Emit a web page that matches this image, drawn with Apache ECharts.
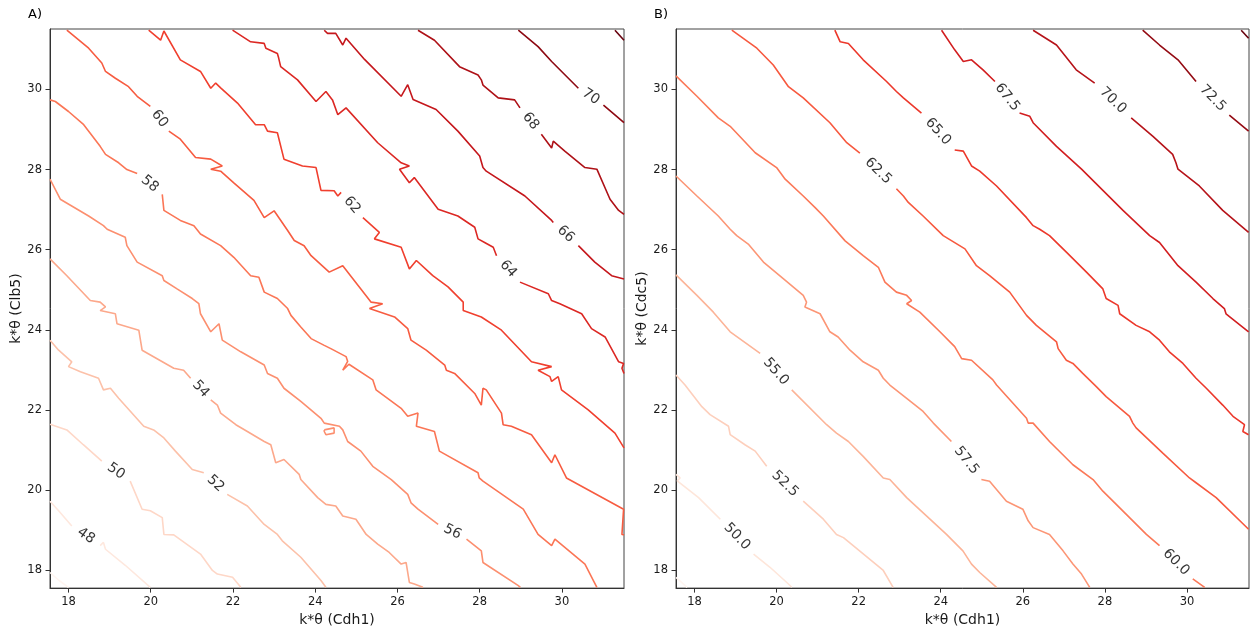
<!DOCTYPE html>
<html><head><meta charset="utf-8">
<script src="https://cdn.jsdelivr.net/npm/echarts@6/dist/echarts.min.js"></script>
<style>html,body{margin:0;padding:0;background:#fff}#c{width:1250px;height:632px}</style>
</head><body><div id="c"></div>
<script>
// ---------- data ----------
const tickValues = [18, 20, 22, 24, 26, 28, 30];
const axisRange = [17.55, 31.51];
const panelTitles = ['A)', 'B)'];
const xNames = ['k*θ (Cdh1)', 'k*θ (Cdh1)'];
const yNames = ['k*θ (Clb5)', 'k*θ (Cdc5)'];

// '|' marks the gap where the contour label sits, null a plain break
const levelsA = [46, 48, 50, 52, 54, 56, 58, 60, 62, 64, 66, 68, 70, 72];
const a46 = [[17.55,17.94],[17.77,17.74],[18.0,17.57]];
const a48 = [[17.55,19.72],[17.76,19.48],[18.08,19.10],'|',[18.77,18.61],[18.85,18.69],[18.90,18.52],[19.38,18.12],[19.99,17.57]];
const a50 = [[17.55,21.64],[17.96,21.50],[18.36,21.13],[18.81,20.72],'|',[19.50,20.22],[19.79,19.52],[19.99,19.48],[20.28,19.31],[20.32,18.89],[20.56,18.88],[21.21,18.40],[21.50,17.99],[21.62,17.90],[21.99,17.82],[22.19,17.57]];
const a52 = [[17.55,23.74],[17.76,23.49],[18.08,23.20],[18.00,23.08],[18.29,22.95],[18.73,22.79],[18.85,22.50],[19.02,22.54],[19.22,22.29],[19.83,21.59],[20.07,21.50],[20.32,21.30],[20.60,20.97],[21.01,20.51],[21.29,20.43],'|',[21.86,19.89],[22.35,19.60],[22.76,19.14],[23.08,18.89],[23.20,18.73],[23.65,18.32],[24.14,17.74],[24.26,17.57]];
const a54 = [[17.55,25.77],[17.96,25.35],[18.53,24.73],[18.77,24.69],[18.90,24.57],[18.77,24.48],[19.14,24.40],[19.18,24.15],[19.71,23.99],[19.79,23.49],[20.56,23.04],[20.80,22.99],[20.97,22.79],'|',[21.46,22.25],[21.62,22.12],[21.70,21.92],[22.07,21.63],[22.35,21.46],[22.76,21.21],[22.92,21.13],[23.04,20.68],[23.24,20.76],[23.61,20.39],[23.65,20.26],[24.06,19.81],[24.26,19.64],[24.50,19.60],[24.67,19.35],[24.99,19.27],[25.24,18.89],[25.52,18.65],[25.80,18.44],[26.09,18.15],[26.21,18.19],[26.29,17.69],[26.41,17.65],[26.62,17.57]];
const a56 = [[17.55,27.76],[17.80,27.26],[18.49,26.84],[18.85,26.60],[18.94,26.51],[19.38,26.31],[19.42,26.10],[19.67,25.69],[20.28,25.35],[20.32,25.23],[20.64,25.02],[21.01,24.78],[21.17,24.65],[21.21,24.40],[21.46,23.95],[21.66,24.15],[21.74,23.74],[22.19,23.45],[22.76,23.12],[22.84,22.91],[23.08,22.79],[23.24,22.54],[23.65,22.21],[24.14,21.79],[24.22,21.67],[24.59,21.59],[24.67,21.50],[24.79,21.21],[25.11,20.97],[25.40,20.59],[25.85,20.26],[26.25,19.89],[26.33,19.68],[26.50,19.52],[26.99,19.14],'|',[27.68,18.77],[28.04,18.48],[28.08,18.19],[28.94,17.61],[28.99,17.57],null,[24.22,21.50],[24.46,21.55],[24.46,21.42],[24.26,21.38],[24.22,21.46],[24.22,21.50]];
const a58 = [[17.55,29.74],[17.68,29.70],[18.00,29.45],[18.37,29.12],[18.77,28.58],[18.90,28.38],[18.94,28.42],[19.22,28.17],[19.42,28.00],[19.67,27.90],'|',[20.28,27.38],[20.32,26.98],[20.72,26.73],[21.05,26.60],[21.21,26.39],[21.70,26.10],[22.02,25.81],[22.43,25.35],[22.63,25.31],[22.76,24.94],[23.08,24.78],[23.33,24.53],[23.41,24.36],[23.65,24.07],[23.90,23.78],[24.22,23.61],[24.38,23.53],[24.75,23.33],[24.79,23.21],[24.67,22.99],[24.82,23.14],[25.40,22.75],[25.48,22.50],[26.09,22.04],[26.25,21.84],[26.50,21.92],[26.46,21.59],[26.90,21.46],[27.02,20.97],[27.96,20.43],[27.99,20.30],[28.08,20.22],[29.06,19.52],[29.42,18.89],[29.75,18.61],[29.83,18.77],[30.56,18.15],[30.85,17.57]];
const a60 = [[17.96,31.48],[18.49,31.03],[18.81,30.66],[18.90,30.45],[19.14,30.28],[19.46,30.07],[19.67,29.83],[19.99,29.58],'|',[20.44,28.96],[20.72,28.76],[21.09,28.30],[21.46,28.26],[21.74,28.09],[21.46,28.01],[21.70,27.96],[22.02,27.67],[22.51,27.23],[22.76,26.80],[23.00,26.97],[23.33,26.48],[23.49,26.23],[23.73,26.10],[23.90,25.85],[24.34,25.44],[24.67,25.60],[25.11,25.02],[25.36,24.69],[25.64,24.65],[25.32,24.53],[25.93,24.32],[26.25,24.03],[26.33,23.74],[26.70,23.49],[27.15,23.12],[27.19,22.99],[27.39,22.91],[27.88,22.41],[28.04,22.12],[28.08,22.54],[28.16,22.50],[28.53,21.92],[28.57,21.63],[28.77,21.59],[29.26,21.38],[29.75,20.68],[29.83,20.88],[30.11,20.30],[31.50,19.52],[31.46,18.89],[31.51,18.88]];
const a62 = [[19.95,31.48],[20.24,31.23],[20.32,31.46],[20.72,30.74],[21.21,30.45],[21.46,30.03],[21.58,30.16],[21.70,30.04],[22.11,29.66],[22.55,29.12],[22.76,29.12],[22.84,28.96],[23.08,28.92],[23.12,28.96],[23.24,28.26],[23.69,28.09],[24.02,28.05],[24.14,27.48],[24.46,27.47],[24.55,27.34],[24.63,27.43],'|',[25.16,26.80],[25.56,26.43],[25.44,26.27],[26.09,26.06],[26.29,25.52],[26.46,25.73],[26.86,25.35],[27.23,25.07],[27.60,24.69],[27.60,24.48],[28.04,24.32],[28.53,23.99],[29.26,23.20],[29.75,23.08],[29.42,22.99],[29.71,22.83],[29.75,22.71],[29.91,22.83],[29.99,22.50],[30.64,22.00],[31.29,21.42],[31.51,21.05]];
const a64 = [[21.99,31.48],[22.43,31.19],[22.76,31.15],[22.80,31.03],[23.08,30.90],[23.11,30.79],[23.16,30.57],[23.57,30.24],[24.02,29.70],[24.26,29.95],[24.42,29.74],[24.55,29.37],[24.75,29.54],[25.52,28.67],[26.09,28.17],[26.29,28.09],[26.05,28.01],[26.29,27.67],[26.41,27.80],[26.99,27.01],[27.47,26.84],[27.88,26.56],[27.96,26.27],[28.12,26.18],[28.33,26.06],[28.41,25.85],'|',[28.98,25.19],[29.67,24.90],[29.75,24.73],[29.95,24.65],[30.48,24.40],[30.72,24.03],[31.05,23.82],[31.38,23.20],[31.50,23.16],[31.46,23.04],[31.51,22.91]];
const a66 = [[24.22,31.48],[24.30,31.40],[24.50,31.40],[24.67,31.11],[24.75,31.28],[25.20,30.75],[26.09,29.83],[26.25,30.12],[26.38,29.75],[26.94,29.50],[27.47,28.96],[28.00,28.34],[28.08,28.05],[28.16,27.96],[29.10,27.34],[29.75,26.73],[29.79,26.68],'|',[30.40,26.10],[30.80,25.69],[31.21,25.35],[31.51,25.27]];
const a68 = [[26.50,31.48],[26.90,31.23],[27.51,30.57],[27.96,30.36],[28.04,30.24],[28.08,30.11],[28.45,29.79],[28.85,29.74],[28.98,29.54],'|',[29.50,28.88],[29.75,28.54],[29.79,28.71],[30.07,28.46],[30.56,28.05],[30.85,28.01],[31.17,27.26],[31.38,26.98],[31.51,26.88]];
const a70 = [[28.94,31.48],[29.42,31.07],[29.75,30.70],[30.40,30.03],'|',[31.01,29.61],[31.51,29.17]];
const a72 = [[31.29,31.48],[31.51,31.23]];
const linesA = [a46, a48, a50, a52, a54, a56, a58, a60, a62, a64, a66, a68, a70, a72];

const levelsB = [47.5, 50, 52.5, 55, 57.5, 60, 62.5, 65, 67.5, 70, 72.5, 75];
const b475 = [[17.55,17.82],[17.82,17.57]];
const b500 = [[17.55,20.39],[17.65,20.30],[17.58,20.23],[18.10,19.81],[18.63,19.27],'|',[19.44,18.40],[19.84,18.07],[20.25,17.69],[20.37,17.57]];
const b525 = [[17.55,22.87],[17.77,22.62],[18.18,22.08],[18.38,21.88],[18.83,21.59],[18.87,21.38],[19.23,21.13],[19.48,20.97],[19.76,20.59],'|',[20.65,19.72],[21.14,19.27],[21.46,18.89],[21.63,18.81],[22.60,17.99],[22.84,17.57]];
const b550 = [[17.55,25.37],[18.06,24.86],[18.46,24.44],[18.87,23.95],[19.60,23.41],'|',[20.37,22.50],[21.22,21.63],[21.46,21.42],[21.75,21.21],[22.11,20.84],[22.60,20.30],[22.76,20.26],[23.17,19.81],[24.14,18.89],[24.54,18.48],[24.75,18.15],[24.95,17.94],[25.36,17.57]];
const b575 = [[17.55,27.84],[18.06,27.34],[18.58,26.84],[18.87,26.51],[19.03,26.35],[19.31,26.14],[19.68,25.69],[20.17,25.27],[20.65,24.86],[20.73,24.69],[20.69,24.57],[21.06,24.40],[21.30,23.95],[21.50,23.82],[21.79,23.49],[22.11,23.20],[22.48,22.99],[22.60,22.79],[22.76,22.62],[23.17,22.29],[23.57,21.96],[23.82,21.67],[24.26,21.21],'|',[24.99,20.26],[25.19,20.22],[25.60,19.72],[26.00,19.52],[26.13,19.23],[26.25,19.06],[26.65,18.89],[26.98,18.48],[27.22,18.15],[27.43,17.90],[27.63,17.57]];
const b600 = [[17.55,30.34],[18.06,29.83],[18.58,29.29],[18.87,29.08],[18.91,29.12],[19.48,28.42],[20.00,28.05],[20.21,27.76],[20.65,27.34],[20.94,27.05],[21.14,26.84],[21.67,26.22],[22.11,25.85],[22.48,25.56],[22.64,25.19],[22.92,24.94],[23.17,24.86],[23.29,24.73],[23.17,24.65],[23.49,24.44],[23.98,23.95],[24.34,23.58],[24.51,23.28],[24.75,23.24],[25.27,22.75],[25.36,22.62],[26.09,21.79],[26.13,21.67],[26.25,21.67],[26.65,21.21],[27.22,20.63],[27.71,20.26],[27.95,19.97],[28.11,19.81],[28.60,19.31],[29.01,18.89],[29.33,18.61],'|',[30.14,17.78],[30.43,17.57]];
const b625 = [[18.91,31.48],[19.52,31.03],[19.92,30.61],[20.29,30.07],[20.65,29.79],[21.30,29.17],[21.71,28.67],[22.03,28.41],'|',[22.92,27.52],[23.09,27.34],[23.21,27.18],[23.57,26.84],[24.06,26.35],[24.59,26.02],[24.87,25.60],[25.19,25.35],[25.68,24.94],[26.09,24.36],[26.33,24.11],[26.82,23.70],[26.86,23.53],[27.06,23.24],[27.22,23.16],[27.46,22.91],[27.79,22.58],[28.03,22.33],[28.60,21.84],[28.68,21.67],[28.76,21.55],[29.41,20.92],[30.06,20.30],[30.22,20.18],[30.71,19.81],[31.50,19.02]];
const b650 = [[21.42,31.48],[21.55,31.19],[21.75,31.15],[22.11,30.74],[22.68,30.20],[22.92,29.95],[23.09,29.79],[23.53,29.41],'|',[24.34,28.49],[24.55,28.46],[24.75,28.09],[24.95,27.96],[25.36,27.59],[26.09,26.80],[26.25,26.60],[26.41,26.51],[26.65,26.35],[27.06,25.94],[27.55,25.44],[27.95,25.02],[28.03,24.78],[28.32,24.61],[28.36,24.40],[28.76,24.11],[29.09,23.95],[29.33,23.74],[29.57,23.45],[29.90,23.16],[30.22,22.79],[30.47,22.54],[30.87,22.12],[31.12,21.84],[31.40,21.63],[31.36,21.46],[31.50,21.38]];
const b675 = [[24.02,31.48],[24.34,30.99],[24.55,30.70],[24.75,30.74],[25.03,30.49],[25.32,30.20],'|',[25.92,29.41],[26.17,29.33],[26.25,29.17],[26.82,28.58],[27.43,28.01],[27.95,27.48],[28.44,26.98],[29.09,26.35],[29.33,26.18],[29.78,25.60],[30.22,25.19],[30.63,24.78],[30.91,24.53],[30.95,24.40],[31.50,23.95]];
const b700 = [[26.25,31.48],[26.82,31.11],[27.30,30.49],[27.75,30.16],'|',[28.64,29.29],[29.17,28.83],[29.65,28.38],[29.73,28.17],[29.78,28.01],[30.30,27.59],[30.87,26.98],[31.50,26.43]];
const b725 = [[28.92,31.48],[29.33,31.11],[29.78,30.74],[30.22,30.20],'|',[31.03,29.36],[31.50,28.96]];
const b750 = [[31.32,31.48],[31.50,31.28]];
const linesB = [b475, b500, b525, b550, b575, b600, b625, b650, b675, b700, b725, b750];

// ---------- helpers ----------
const REDS = [[255,245,240],[254,224,210],[252,187,161],[252,146,114],[251,106,74],[239,59,44],[203,24,29],[165,15,21],[103,0,13]];
function reds(t) {
  t = Math.max(0, Math.min(1, t));
  const s = t * 8, i = Math.min(7, Math.floor(s)), f = s - i;
  const a = REDS[i], b = REDS[i + 1];
  return 'rgb(' + a.map((v, k) => Math.round(v + (b[k] - v) * f)).join(',') + ')';
}
const FONT = 'DejaVu Sans';
const chart = echarts.init(document.getElementById('c'), null, { renderer: 'canvas' });

const panels = [
  { levels: levelsA, lines: linesA, fmt: v => String(v) },
  { levels: levelsB, lines: linesB, fmt: v => v.toFixed(1) }
];
const gridPos = [
  { left: 50, top: 29, width: 574, height: 561 },
  { left: 676, top: 29, width: 573, height: 561 }
];

const series = [];
const pendingLabels = [];
panels.forEach((p, gi) => {
  const lo = p.levels[0], hi = p.levels[p.levels.length - 1];
  p.levels.forEach((lev, li) => {
    const pts = p.lines[li];
    const color = reds((lev - lo) / (hi - lo));
    series.push({
      type: 'line', xAxisIndex: gi, yAxisIndex: gi,
      data: pts.map(q => Array.isArray(q) ? q : ['-', '-']),
      showSymbol: false, symbol: 'none', connectNulls: false,
      lineStyle: { color: color, width: 1.6 }, silent: true, animation: false, z: 2
    });
    pts.forEach((q, i) => {
      if (q === '|') pendingLabels.push({ gi, a: pts[i - 1], b: pts[i + 1], text: p.fmt(lev) });
    });
  });
});

function axisCommon(gi, name, isX) {
  return {
    type: 'value', gridIndex: gi, min: axisRange[0], max: axisRange[1],
    name: name, nameLocation: 'middle', nameGap: isX ? 21 : 26,
    nameTextStyle: { fontFamily: FONT, fontSize: 14, color: '#1a1a1a' },
    axisLine: { show: true, onZero: false, lineStyle: { color: '#333', width: 1 } },
    axisTick: { show: true, length: 4.5, customValues: tickValues, lineStyle: { color: '#333' } },
    axisLabel: { show: true, customValues: tickValues, fontFamily: FONT, fontSize: 11.5, color: '#1a1a1a', margin: 8 },
    splitLine: { show: false }
  };
}

const option = {
  animation: false,
  backgroundColor: '#fff',
  textStyle: { fontFamily: FONT },
  title: panelTitles.map((t, i) => ({
    text: t, left: i === 0 ? 28 : 654, top: 8, padding: 0,
    textStyle: { fontFamily: FONT, fontSize: 13, fontWeight: 'normal', color: '#000' }
  })),
  grid: gridPos.map(g => Object.assign({ show: true, borderColor: '#444', borderWidth: 1, backgroundColor: 'transparent', containLabel: false }, g)),
  xAxis: [axisCommon(0, xNames[0], true), axisCommon(1, xNames[1], true)],
  yAxis: [axisCommon(0, yNames[0], false), axisCommon(1, yNames[1], false)],
  series: series
};
chart.setOption(option);

// contour labels: centred in each gap, rotated along the line
const labelSeries = [0, 1].map(gi => ({
  type: 'scatter', xAxisIndex: gi, yAxisIndex: gi, symbolSize: 1, silent: true, z: 5,
  itemStyle: { color: 'rgba(0,0,0,0)' },
  label: { show: true, position: 'inside', formatter: '{b}', fontFamily: FONT, fontSize: 14, color: '#000' },
  data: pendingLabels.filter(L => L.gi === gi).map(L => {
    const pa = chart.convertToPixel({ gridIndex: gi }, L.a);
    const pb = chart.convertToPixel({ gridIndex: gi }, L.b);
    let ang = -Math.atan2(pb[1] - pa[1], pb[0] - pa[0]) * 180 / Math.PI;
    if (ang > 90) ang -= 180;
    if (ang < -90) ang += 180;
    return { name: L.text, value: [(L.a[0] + L.b[0]) / 2, (L.a[1] + L.b[1]) / 2], label: { rotate: ang } };
  })
}));
chart.setOption({ series: series.concat(labelSeries) });
</script>
</body></html>
